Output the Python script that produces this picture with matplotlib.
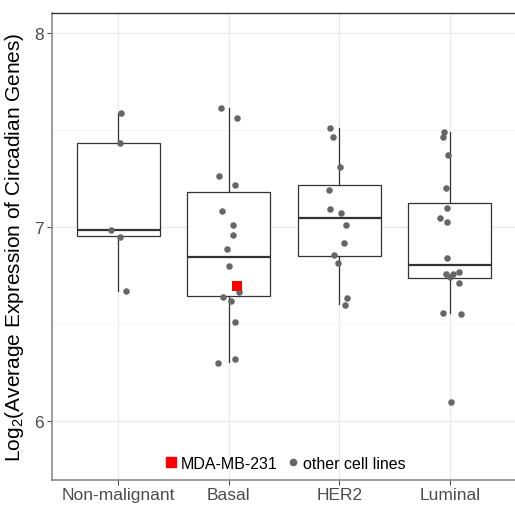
"""Box plots of circadian gene expression per breast cancer subtype."""

import matplotlib
matplotlib.use("Agg")
import matplotlib.pyplot as plt
from matplotlib.lines import Line2D

plt.rcParams["font.family"] = ["Liberation Sans", "DejaVu Sans"]
plt.rcParams["mathtext.default"] = "regular"

CATEGORIES = ["Non-malignant", "Basal", "HER2", "Luminal"]

# log2 expression of each cell line
NONMAL_VALUES = [7.588, 7.435, 6.983, 6.950, 6.668]
BASAL_VALUES = [7.612, 7.562, 7.263, 7.215, 7.082, 7.010, 6.957, 6.885,
                6.799, 6.665, 6.641, 6.619, 6.510, 6.321, 6.297]
HER2_VALUES = [7.510, 7.466, 7.307, 7.191, 7.093, 7.074, 7.010, 6.916,
               6.857, 6.816, 6.632, 6.600]
LUMINAL_VALUES = [7.491, 7.462, 7.371, 7.201, 7.096, 7.046, 7.024, 6.839,
                  6.758, 6.758, 6.768, 6.744, 6.711, 6.555, 6.550, 6.096]

# horizontal jitter of each point (category units), as drawn
NONMAL_JITTER = [0.024, 0.015, -0.060, 0.015, 0.072]
BASAL_JITTER = [-0.072, 0.076, -0.087, 0.054, -0.057, 0.036, 0.042, -0.015,
                0.006, 0.090, -0.048, 0.021, 0.061, 0.061, -0.093]
HER2_JITTER = [-0.088, -0.054, 0.006, -0.093, -0.088, 0.015, 0.063, 0.039,
               -0.045, -0.015, 0.072, 0.054]
LUMINAL_JITTER = [-0.054, -0.060, -0.015, -0.039, -0.030, -0.090, -0.024,
                  -0.024, -0.039, 0.030, 0.079, 0.000, 0.084, -0.066, 0.099,
                  0.006]

# MDA-MB-231 (basal)
MDA_VALUE = 6.696
MDA_JITTER = 0.076

# box statistics as shown
BOX_Q1 = [6.952, 6.646, 6.849, 6.736]
BOX_MED = [6.985, 6.847, 7.045, 6.806]
BOX_Q3 = [7.435, 7.182, 7.216, 7.122]
WHISK_LO = [6.668, 6.306, 6.601, 6.555]
WHISK_HI = [7.588, 7.612, 7.510, 7.491]

POINT_COLOR = "#666666"
LINE_COLOR = "#333333"

fig = plt.figure(figsize=(5.15, 5.06), dpi=100)
ax = fig.add_axes([51.7 / 515, 25.5 / 506, 464.5 / 515, 467.0 / 506])

positions = list(range(1, len(CATEGORIES) + 1))
stats = []
for i, cat in enumerate(CATEGORIES):
    stats.append({
        "label": cat, "q1": BOX_Q1[i], "med": BOX_MED[i], "q3": BOX_Q3[i],
        "whislo": WHISK_LO[i], "whishi": WHISK_HI[i], "fliers": [],
    })

ax.bxp(
    stats, positions=positions, widths=0.75, showfliers=False,
    showcaps=False, patch_artist=True,
    boxprops=dict(facecolor="white", edgecolor=LINE_COLOR, linewidth=0.9),
    medianprops=dict(color=LINE_COLOR, linewidth=1.6),
    whiskerprops=dict(color=LINE_COLOR, linewidth=0.9),
    zorder=2,
)

groups = [
    (NONMAL_VALUES, NONMAL_JITTER),
    (BASAL_VALUES, BASAL_JITTER),
    (HER2_VALUES, HER2_JITTER),
    (LUMINAL_VALUES, LUMINAL_JITTER),
]
for pos, (vals, jit) in zip(positions, groups):
    xs = [pos + j for j in jit]
    ax.scatter(xs, vals, s=22, color=POINT_COLOR, linewidths=0, zorder=3)

ax.scatter([2 + MDA_JITTER], [MDA_VALUE], marker="s", s=50, color="red",
           linewidths=0, zorder=4)

# axes styling, ggplot-like
ax.set_xlim(0.4, 4.6)
ax.set_ylim(5.698, 8.106)
ax.set_xticks(positions)
ax.set_xticklabels(CATEGORIES)
ax.set_yticks([6, 7, 8])
ax.set_yticks([6.5, 7.5], minor=True)
ax.tick_params(axis="both", which="major", labelsize=12.5, colors="#4d4d4d",
               length=3.5, width=0.8, pad=2)
ax.tick_params(axis="y", which="minor", length=0)
ax.grid(True, which="major", color="#ebebeb", linewidth=1.0, zorder=0)
ax.grid(True, which="minor", axis="y", color="#f3f3f3", linewidth=0.6, zorder=0)
ax.set_axisbelow(True)

for side in ["left", "bottom"]:
    ax.spines[side].set_color("#8c8c8c")
    ax.spines[side].set_linewidth(1.2)
for side in ["top", "right"]:
    ax.spines[side].set_color(LINE_COLOR)
    ax.spines[side].set_linewidth(1.0)

ax.set_ylabel("Log$_2$(Average Expression of Circadian Genes)", fontsize=15,
              color="black", labelpad=6)

handles = [
    Line2D([], [], marker="s", color="red", linestyle="none", markersize=7.5,
           label="MDA-MB-231"),
    Line2D([], [], marker="o", color=POINT_COLOR, linestyle="none",
           markersize=4.5, label="other cell lines"),
]
ax.legend(handles=handles, loc="lower center", ncol=2, frameon=False,
          fontsize=11.5, handletextpad=0.1, columnspacing=0.5,
          handlelength=1.0, bbox_to_anchor=(0.5, 0.0), borderaxespad=0.15)

fig.savefig("out.png", dpi=100)
